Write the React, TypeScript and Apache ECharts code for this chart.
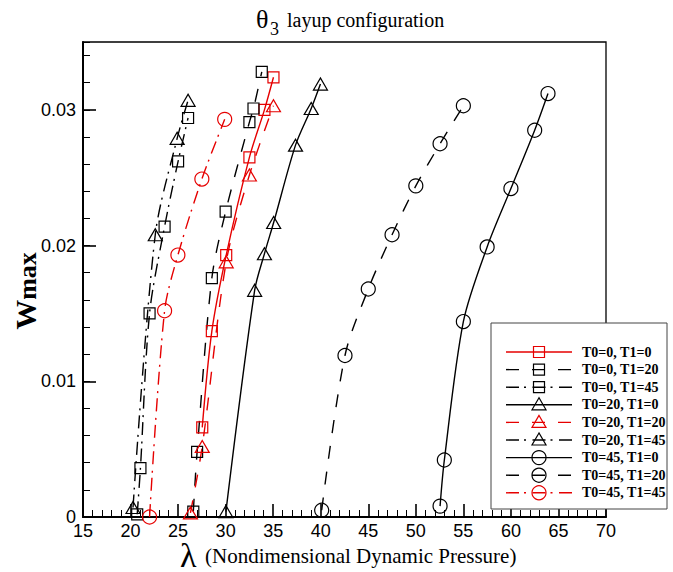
import React, { useEffect, useRef } from 'react';
import * as echarts from 'echarts';

// ---- data (λ, Wmax) ----
const lam00 = [27.54, 28.55, 30.06, 32.5, 34.08, 35.03];
const w00 = [0.0066, 0.0137, 0.0193, 0.0265, 0.0300, 0.0324];
const lam020 = [26.6, 27.0, 28.55, 30.0, 32.5, 32.93, 33.8];
const w020 = [0.0004, 0.0048, 0.0176, 0.0225, 0.0291, 0.0301, 0.0328];
const lam045 = [20.7, 21.04, 22.0, 23.58, 25.0, 26.05];
const w045 = [0.0002, 0.0036, 0.0150, 0.0214, 0.0262, 0.0294];
const lam200 = [30.03, 33.05, 34.08, 35.05, 37.35, 39.0, 39.97];
const w200 = [0.0004, 0.0167, 0.0194, 0.0217, 0.0274, 0.0301, 0.0319];
const lam2020 = [26.3, 27.54, 30.06, 32.5, 35.03];
const w2020 = [0.0003, 0.0052, 0.0188, 0.0252, 0.0303];
const lam2045 = [20.26, 22.6, 24.9, 26.05];
const w2045 = [0.0007, 0.0208, 0.0279, 0.0307];
const lam450 = [52.55, 53.0, 55.0, 57.5, 60.0, 62.5, 63.9];
const w450 = [0.0008, 0.0042, 0.0144, 0.0199, 0.0242, 0.0285, 0.0312];
const lam4520 = [40.1, 42.55, 45.0, 47.5, 50.0, 52.55, 55.0];
const w4520 = [0.0005, 0.0119, 0.0168, 0.0208, 0.0244, 0.0275, 0.0303];
const lam4545 = [22.0, 23.58, 24.98, 27.5, 29.9];
const w4545 = [0.0, 0.0152, 0.0193, 0.0249, 0.0293];

const seriesNames = [
  'T0=0, T1=0', 'T0=0, T1=20', 'T0=0, T1=45',
  'T0=20, T1=0', 'T0=20, T1=20', 'T0=20, T1=45',
  'T0=45, T1=0', 'T0=45, T1=20', 'T0=45, T1=45',
];
const seriesLam = [lam00, lam020, lam045, lam200, lam2020, lam2045, lam450, lam4520, lam4545];
const seriesW = [w00, w020, w045, w200, w2020, w2045, w450, w4520, w4545];

const xTicks = { min: 15, max: 70, step: 5 };
const yTicks = { min: 0, max: 0.035, step: 0.01, minorStep: 0.002 };

// ---- styles ----
const RED = '#e60000';
const BLACK = '#000000';
const DASH = [13, 13];
const DASHDOT = [13, 5, 2, 6.5];
const styles = [
  { c: RED, dash: 'solid', sym: 'rect' },
  { c: BLACK, dash: DASH, sym: 'rect' },
  { c: BLACK, dash: DASHDOT, sym: 'rect' },
  { c: BLACK, dash: 'solid', sym: 'triangle' },
  { c: RED, dash: DASH, sym: 'triangle' },
  { c: BLACK, dash: DASHDOT, sym: 'triangle' },
  { c: BLACK, dash: 'solid', sym: 'circle' },
  { c: BLACK, dash: DASH, sym: 'circle' },
  { c: RED, dash: DASHDOT, sym: 'circle' },
];
const symSize: Record<string, number[]> = { rect: [11, 11], triangle: [14, 12], circle: [14, 14] };

const SERIF = "'Liberation Serif', 'Times New Roman', serif";
const SANS = "'Liberation Sans', Arial, Helvetica, sans-serif";

function legendGraphics() {
  const els: any[] = [];
  els.push({
    type: 'rect',
    shape: { x: 491, y: 323, width: 176, height: 186 },
    style: { fill: '#fff', stroke: '#444', lineWidth: 1 },
    z: 100,
  });
  seriesNames.forEach((name, i) => {
    const y = 352 + i * 17.6;
    const s = styles[i];
    els.push({
      type: 'line',
      shape: { x1: 506, y1: y, x2: 572, y2: y },
      style: { stroke: s.c, lineWidth: 1.4, lineDash: s.dash === 'solid' ? null : s.dash },
      z: 101,
    });
    const ms = { fill: 'none', stroke: s.c, lineWidth: 1.2 };
    if (s.sym === 'rect') {
      els.push({ type: 'rect', shape: { x: 533.5, y: y - 5.5, width: 11, height: 11 }, style: ms, z: 102 });
    } else if (s.sym === 'triangle') {
      els.push({ type: 'polygon', shape: { points: [[539, y - 7], [532, y + 5], [546, y + 5]] }, style: ms, z: 102 });
    } else {
      els.push({ type: 'circle', shape: { cx: 539, cy: y, r: 7 }, style: ms, z: 102 });
    }
    els.push({
      type: 'text', x: 582, y: y, z: 102,
      style: { text: name, font: 'bold 14px ' + SERIF, fill: '#000', verticalAlign: 'middle', align: 'left' },
    });
  });
  return els;
}

export default function App() {
  const ref = useRef<HTMLDivElement>(null);
  useEffect(() => {
    if (!ref.current) return;
    const chart = echarts.init(ref.current, null, { renderer: 'svg' });
    const series = seriesNames.map((name, i) => ({
      name,
      type: 'line',
      data: seriesLam[i].map((x, k) => [x, seriesW[i][k]]),
      smooth: 0.3,
      symbol: styles[i].sym,
      symbolSize: symSize[styles[i].sym],
      showAllSymbol: true,
      lineStyle: { color: styles[i].c, width: 1.4, type: styles[i].dash },
      itemStyle: { color: 'rgba(0,0,0,0)', borderColor: styles[i].c, borderWidth: 1.2 },
      emphasis: { disabled: true },
      z: 3,
    }));
    chart.setOption({
      animation: false,
      backgroundColor: '#fff',
      grid: {
        left: 83, right: 67, top: 42, bottom: 55,
        show: true, borderColor: '#000', borderWidth: 1.3, backgroundColor: 'transparent',
        containLabel: false, outerBoundsMode: 'none',
      },
      xAxis: {
        type: 'value', min: xTicks.min, max: xTicks.max, interval: xTicks.step,
        axisLine: { show: true, onZero: false, lineStyle: { color: '#000', width: 2 } },
        axisTick: { show: true, inside: true, length: 13, lineStyle: { color: '#000', width: 1.6 } },
        minorTick: { show: true, splitNumber: 5, length: 7, lineStyle: { color: '#000', width: 1 } },
        axisLabel: { color: '#000', fontSize: 18, fontFamily: SANS, margin: 5 },
        splitLine: { show: false },
        minorSplitLine: { show: false },
      },
      yAxis: [
        {
          type: 'value', min: yTicks.min, max: yTicks.max, interval: yTicks.step, position: 'left',
          axisLine: { show: true, onZero: false, lineStyle: { color: '#000', width: 2 } },
          axisTick: { show: true, inside: true, length: 13, lineStyle: { color: '#000', width: 1.6 } },
          axisLabel: {
            color: '#000', fontSize: 18, fontFamily: SANS, margin: 7, showMaxLabel: false,
            formatter: (v: number) => {
              const r = Math.round(v * 100);
              if (Math.abs(v * 100 - r) > 1e-6) return '';
              return r === 0 ? '0' : (r / 100).toFixed(2);
            },
          },
          splitLine: { show: false },
        },
        {
          type: 'value', min: yTicks.min, max: yTicks.max, interval: yTicks.minorStep, position: 'left', offset: 0,
          axisLine: { show: false },
          axisTick: { show: true, inside: true, length: 7, lineStyle: { color: '#000', width: 1 } },
          axisLabel: { show: false },
          splitLine: { show: false },
        },
      ],
      series,
      graphic: [
        // title
        { type: 'text', x: 256, y: 19, style: { text: 'θ', font: '26px ' + SERIF, fill: '#000', verticalAlign: 'middle', align: 'left' } },
        { type: 'text', x: 270, y: 29, style: { text: '3', font: '18px ' + SERIF, fill: '#000', verticalAlign: 'middle', align: 'left' } },
        { type: 'text', x: 287, y: 20, style: { text: 'layup configuration', font: '20px ' + SERIF, fill: '#000', verticalAlign: 'middle', align: 'left' } },
        // x axis name
        { type: 'text', x: 180, y: 555, style: { text: 'λ', font: '34px ' + SERIF, fill: '#000', verticalAlign: 'middle', align: 'left' } },
        { type: 'text', x: 205, y: 556, style: { text: '(Nondimensional Dynamic Pressure)', font: '21px ' + SERIF, fill: '#000', verticalAlign: 'middle', align: 'left' } },
        // y axis name
        {
          type: 'text', x: 25, y: 291, rotation: Math.PI / 2,
          style: {
            text: '{w|W}{m|max}', align: 'center', verticalAlign: 'middle',
            rich: {
              w: { fontFamily: SERIF, fontWeight: 'bold', fontSize: 30, fill: '#000', verticalAlign: 'bottom' },
              m: { fontFamily: SERIF, fontWeight: 'bold', fontSize: 26, fill: '#000', verticalAlign: 'bottom' },
            },
          },
        },
        ...legendGraphics(),
      ],
    });
    return () => chart.dispose();
  }, []);
  return <div ref={ref} style={{ position: 'absolute', left: 0, top: 0, width: 673, height: 572 }} />;
}
